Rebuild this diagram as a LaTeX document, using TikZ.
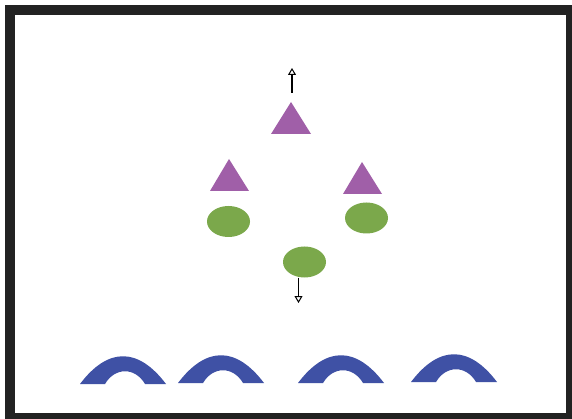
\documentclass[tikz,border=0pt]{standalone}
\usetikzlibrary{arrows.meta,shapes.geometric}
\definecolor{archblue}{HTML}{3F51A5}
\definecolor{tripurple}{HTML}{A05FA8}
\definecolor{ovalgreen}{HTML}{7BA84B}
\definecolor{frame}{HTML}{222222}
\begin{document}
\begin{tikzpicture}[x=1pt,y=-1pt,
  tri/.style={fill=tripurple},
  oval/.style={ellipse,fill=ovalgreen,minimum width=43pt,minimum height=31pt,inner sep=0pt},
  arch/.style={fill=archblue},
  arr/.style={line width=1.6pt,-{Triangle[open,length=7pt,width=8pt,line width=1pt]}}]
\useasboundingbox (0,0) rectangle (572,419);
\fill[white] (0,0) rectangle (572,419);
\draw[frame,line width=10pt] (10,10) rectangle (571,418);
% triangles
\fill[tri] (291,102) -- (311,134) -- (271,134) -- cycle;
\fill[tri] (229,159) -- (249,191) -- (210,191) -- cycle;
\fill[tri] (362,162) -- (382,194) -- (343,194) -- cycle;
% ovals
\node[oval] (ol) at (228.5,221.5) {};
\node[oval] (or) at (366.5,218) {};
\node[oval] (ob) at (304.5,262) {};
% arrows
\coordinate (upS) at (292,93);
\coordinate (upE) at (292,68);
\draw[arr] (upS) -- (upE);
\coordinate (dnE) at (298.5,303);
\draw[arr] (ob.south -| dnE) -- (dnE);
% arches
\foreach \x/\b in {80/384,178/383,298/383,411/382}{
  \fill[arch] (\x,\b) .. controls (\x+28,\b-37) and (\x+58,\b-37) .. (\x+86,\b)
    -- (\x+65,\b) .. controls (\x+55,\b-17) and (\x+35,\b-17) .. (\x+25,\b) -- cycle;
}
\end{tikzpicture}
\end{document}
